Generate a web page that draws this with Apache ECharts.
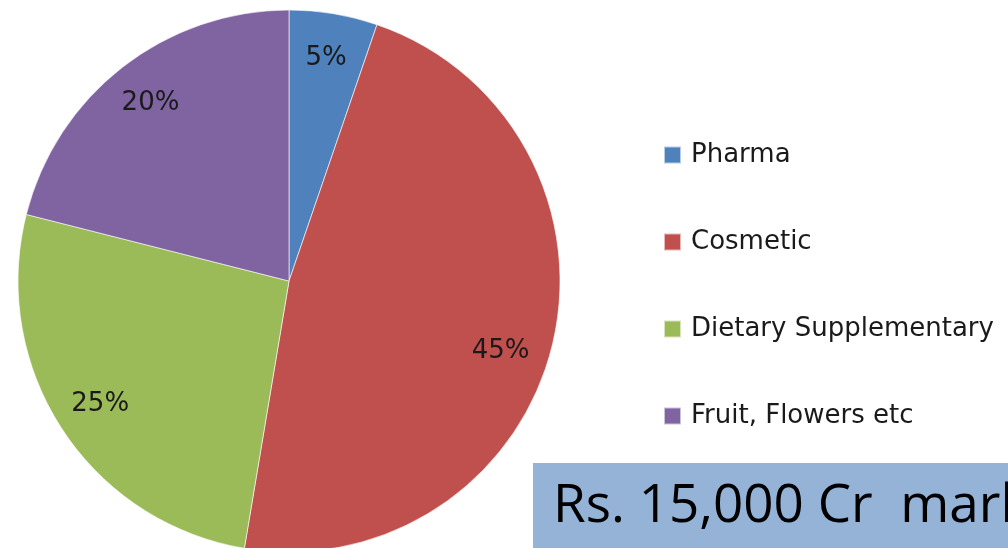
<!DOCTYPE html>
<html>
<head>
<meta charset="utf-8">
<script src="https://cdn.jsdelivr.net/npm/echarts@6/dist/echarts.min.js"></script>
<style>
  html, body { margin: 0; padding: 0; background: #fff; }
  #chart { width: 1008px; height: 548px; }
</style>
</head>
<body>
<div id="chart"></div>
<script>
// Market split by application segment (percent)
const categories = ['Pharma', 'Cosmetic', 'Dietary Supplementary', 'Fruit, Flowers etc'];
const shares = [5, 45, 25, 20];
const sliceColors = ['#4F81BD', '#C0504D', '#9BBB59', '#8064A2'];
const marketNote = 'Rs. 15,000 Cr  market';

const data = categories.map((name, i) => ({ name, value: shares[i] }));

// the large slice's label sits a little lower than the slice's mid-angle
const labelData = data.map((d, i) =>
  i === 1 ? Object.assign({}, d, { label: { offset: [-7, 15] } }) : d
);

const chart = echarts.init(document.getElementById('chart'), null, { renderer: 'canvas' });

chart.setOption({
  animation: false,
  color: sliceColors,
  legend: {
    orient: 'vertical',
    left: 663,
    top: 142,
    padding: 0,
    itemWidth: 17,
    itemHeight: 17,
    itemGap: 61,
    icon: 'rect',
    data: categories,
    textStyle: {
      fontFamily: 'DejaVu Sans',
      fontSize: 26,
      color: '#1a1a1a',
      lineHeight: 26,
      padding: [0, 0, 0, 5]
    }
  },
  series: [
    {
      type: 'pie',
      center: [289, 281],
      radius: [0, 271],
      startAngle: 90,
      clockwise: true,
      data: data,
      label: { show: false },
      labelLine: { show: false },
      itemStyle: { borderColor: 'rgba(255,255,255,0.6)', borderWidth: 1 },
      emphasis: { disabled: true }
    },
    {
      // transparent ring that places the percentage labels near the rim
      type: 'pie',
      center: [289, 281],
      radius: [174, 271],
      startAngle: 90,
      clockwise: true,
      silent: true,
      data: labelData,
      legendHoverLink: false,
      itemStyle: { color: 'rgba(0,0,0,0)' },
      label: {
        show: true,
        position: 'inside',
        formatter: p => p.value + '%',
        fontFamily: 'DejaVu Sans',
        fontSize: 26,
        color: '#1a1a1a'
      },
      labelLine: { show: false },
      emphasis: { disabled: true }
    }
  ],
  graphic: [
    {
      type: 'rect',
      left: 533,
      top: 463,
      shape: { width: 500, height: 100 },
      style: { fill: '#95B3D7' },
      z: 10
    },
    {
      type: 'text',
      left: 553,
      top: 480,
      style: {
        text: marketNote,
        fontFamily: 'Open Sans',
        fontSize: 53,
        fill: '#000'
      },
      z: 11
    }
  ]
});
</script>
</body>
</html>
